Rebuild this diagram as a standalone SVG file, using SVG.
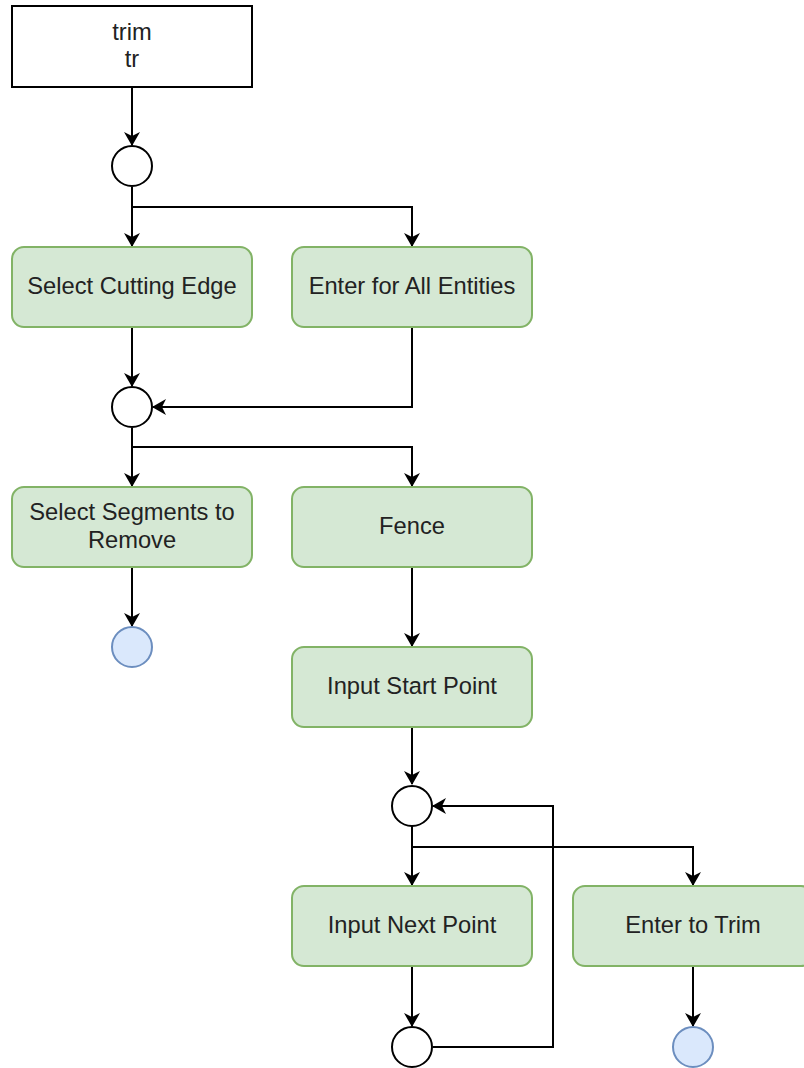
<svg xmlns="http://www.w3.org/2000/svg" width="804" height="1068" viewBox="0 0 804 1068">
<style>
.box{fill:#d5e8d4;stroke:#82b366;stroke-width:2}
.start{fill:#ffffff;stroke:#000000;stroke-width:2}
.node{fill:#ffffff;stroke:#000000;stroke-width:2}
.end{fill:#dae8fc;stroke:#6c8ebf;stroke-width:2}
.lbl{font-family:"Liberation Sans",Arial,Helvetica,sans-serif;font-size:23.7px;fill:#222222;text-anchor:middle}
.edge{fill:none;stroke:#000000;stroke-width:2;marker-end:url(#arr)}
</style>
<defs>
<marker id="arr" markerUnits="userSpaceOnUse" viewBox="0 0 14 16" markerWidth="14" markerHeight="16" refX="13" refY="8" orient="auto">
<path d="M0,0 L14,8 L0,16 L4,8 Z" fill="#000000"/>
</marker>
</defs>
<g id="connectors">
<path class="edge" d="M132,87 L132,145"/>
<path class="edge" d="M132,187 L132,246"/>
<path class="edge" d="M132,207 L412,207 L412,246"/>
<path class="edge" d="M132,327 L132,386"/>
<path class="edge" d="M412,327 L412,407 L153,407"/>
<path class="edge" d="M132,428 L132,486"/>
<path class="edge" d="M132,447 L412,447 L412,486"/>
<path class="edge" d="M132,567 L132,626"/>
<path class="edge" d="M412,567 L412,646"/>
<path class="edge" d="M412,727 L412,784"/>
<path class="edge" d="M412,826 L412,885"/>
<path class="edge" d="M412,847 L693,847 L693,885"/>
<path class="edge" d="M433,1047 L553,1047 L553,806 L433,806"/>
<path class="edge" d="M412,966 L412,1026"/>
<path class="edge" d="M693,966 L693,1026"/>
</g>
<g id="start">
<rect class="start" x="12" y="6" width="240" height="81"/>
<text class="lbl" x="132" y="39.5">trim</text>
<text class="lbl" x="132" y="67">tr</text>
</g>
<g id="merge1"><circle class="node" cx="132" cy="166" r="20"/></g>
<g id="selectCuttingEdge">
<rect class="box" x="12" y="247" width="240" height="80" rx="12"/>
<text class="lbl" x="132" y="294">Select Cutting Edge</text>
</g>
<g id="enterAll">
<rect class="box" x="292" y="247" width="240" height="80" rx="12"/>
<text class="lbl" x="412" y="294">Enter for All Entities</text>
</g>
<g id="merge2"><circle class="node" cx="132" cy="407" r="20"/></g>
<g id="selectSegments">
<rect class="box" x="12" y="487" width="240" height="80" rx="12"/>
<text class="lbl" x="132" y="520">Select Segments to</text>
<text class="lbl" x="132" y="548">Remove</text>
</g>
<g id="fence">
<rect class="box" x="292" y="487" width="240" height="80" rx="12"/>
<text class="lbl" x="412" y="534">Fence</text>
</g>
<g id="end1"><circle class="end" cx="132" cy="647" r="20"/></g>
<g id="inputStart">
<rect class="box" x="292" y="647" width="240" height="80" rx="12"/>
<text class="lbl" x="412" y="694">Input Start Point</text>
</g>
<g id="merge3"><circle class="node" cx="412" cy="806" r="20"/></g>
<g id="inputNext">
<rect class="box" x="292" y="886" width="240" height="80" rx="12"/>
<text class="lbl" x="412" y="933">Input Next Point</text>
</g>
<g id="enterTrim">
<rect class="box" x="573" y="886" width="240" height="80" rx="12"/>
<text class="lbl" x="693" y="933">Enter to Trim</text>
</g>
<g id="merge4"><circle class="node" cx="412" cy="1047" r="20"/></g>
<g id="end2"><circle class="end" cx="693" cy="1047" r="20"/></g>
</svg>
